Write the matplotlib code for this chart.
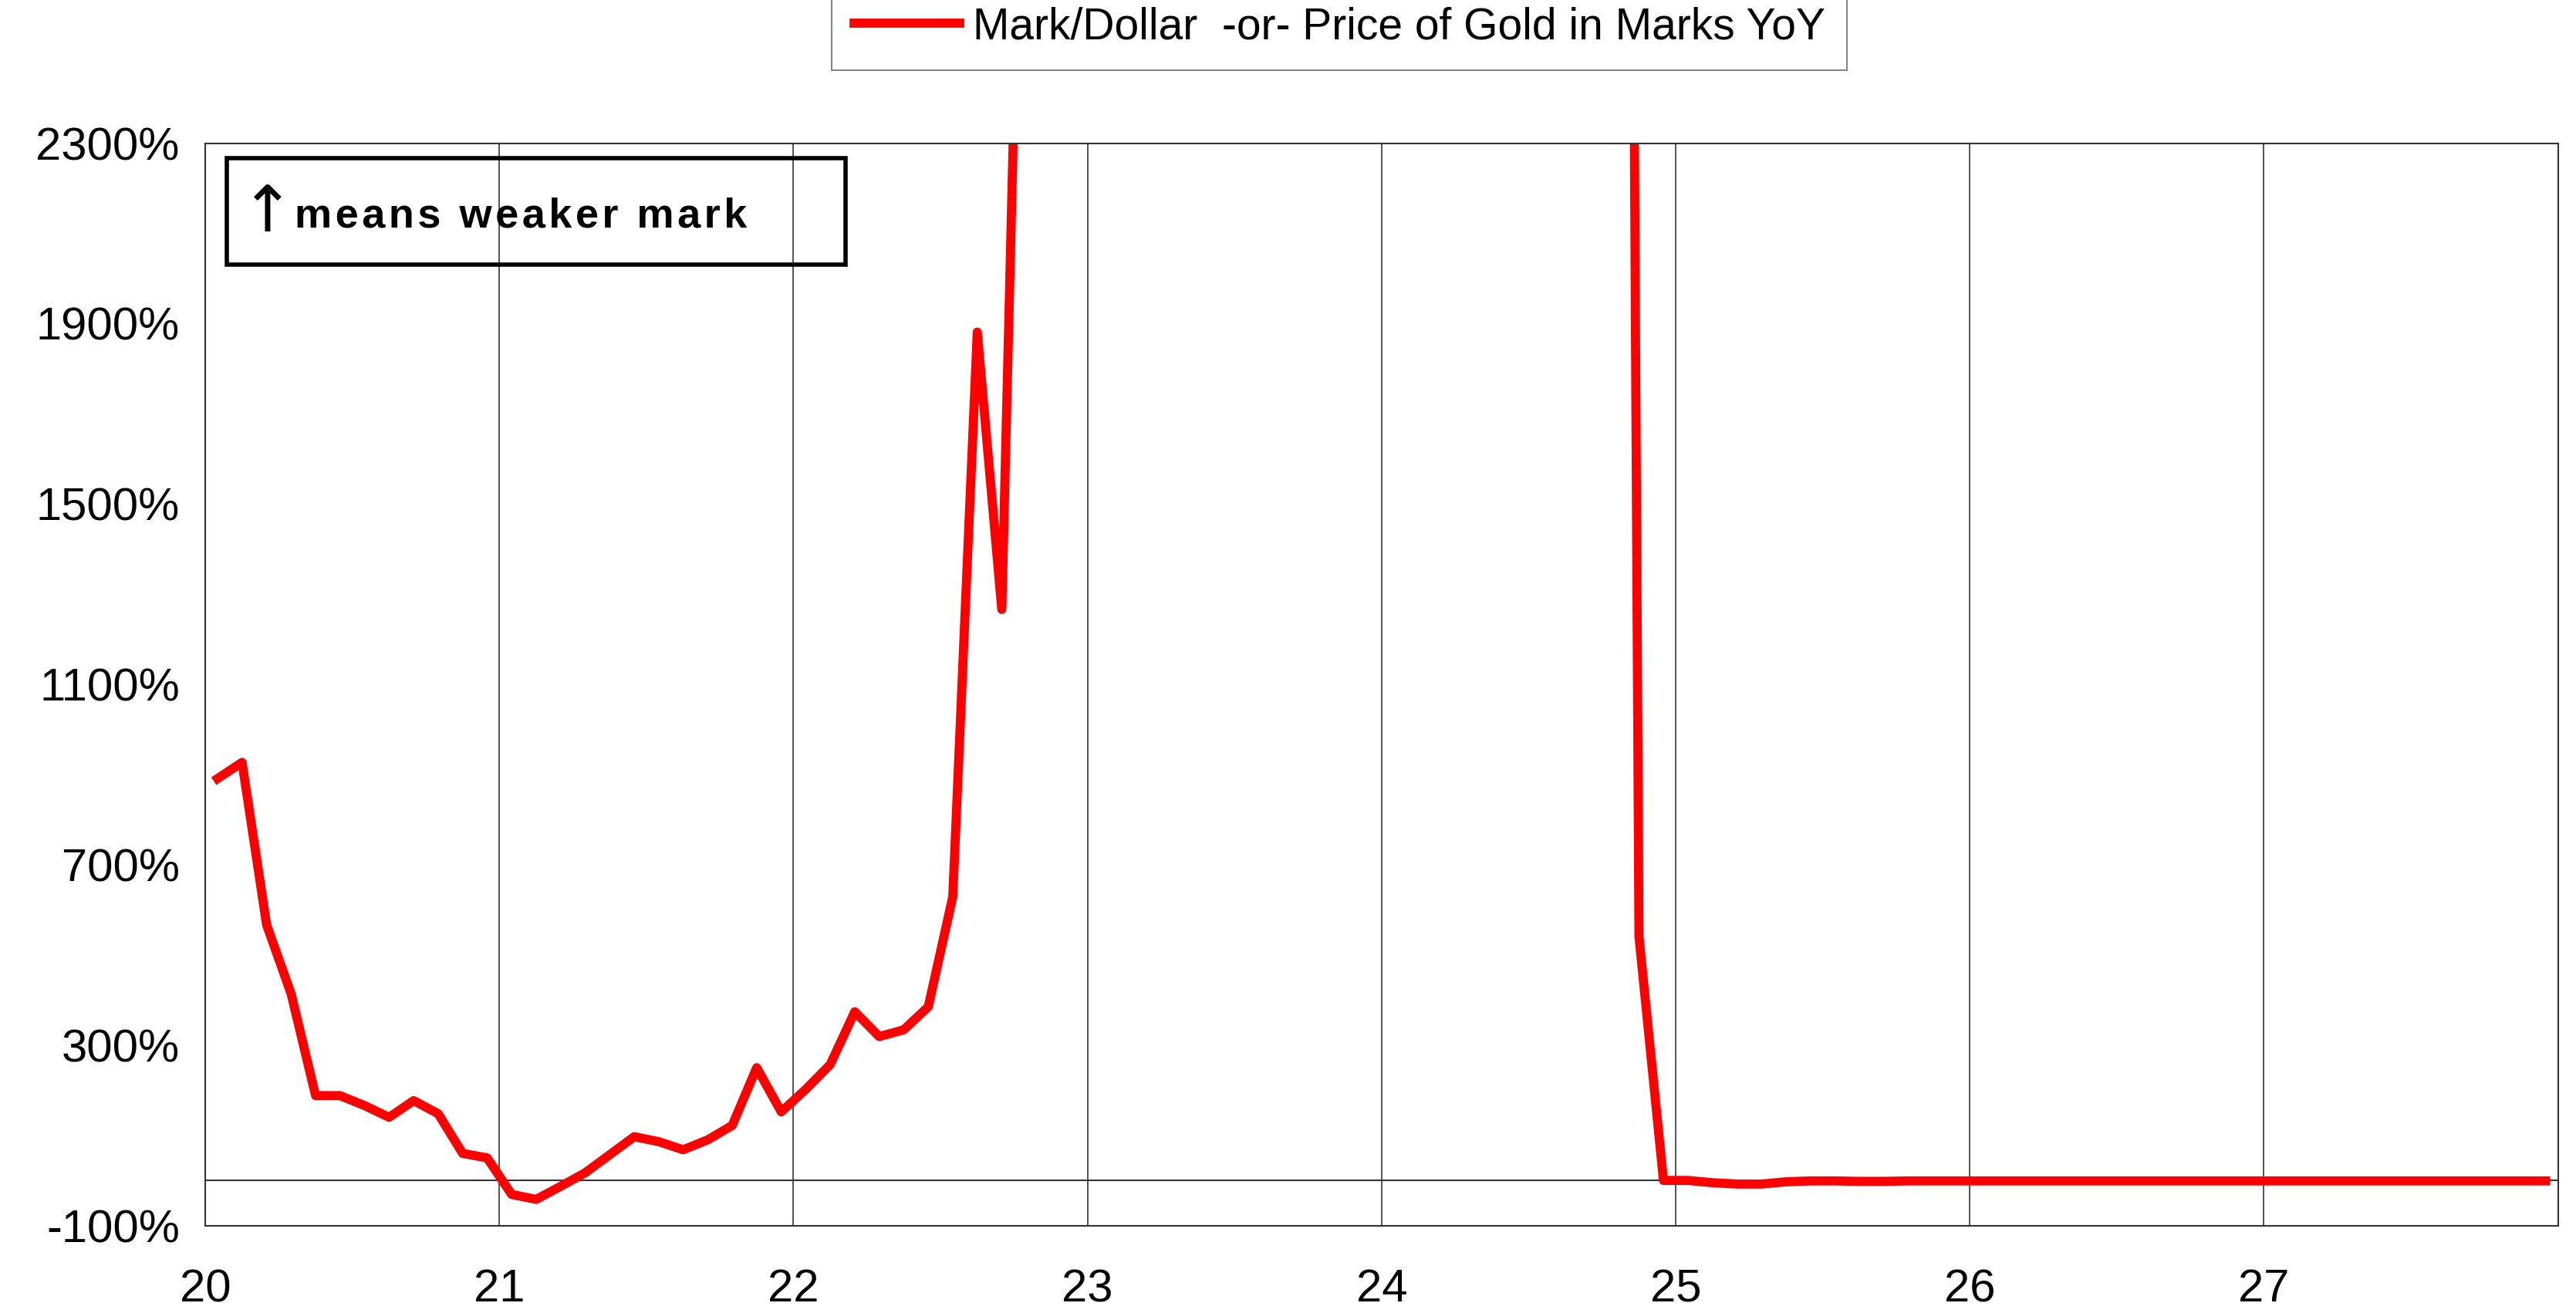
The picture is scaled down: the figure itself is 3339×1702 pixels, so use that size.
import matplotlib.pyplot as plt
import numpy as np
from matplotlib.patches import Rectangle

plt.rcParams['font.family'] = ['Liberation Sans', 'DejaVu Sans']

# Monthly YoY change (%), Jan 1920 - Dec 1927. Hyperinflation months are far off scale.
yoy_1920 = [891, 927, 567, 414, 188, 188, 166, 140, 177, 148, 60, 50]
yoy_1921 = [-31, -42, -13, 17, 57, 97, 86, 68, 90, 122, 250, 152]
yoy_1922 = [202, 257, 374, 319, 334, 385, 629, 1881, 1266, 3500, 9000, 20000]
yoy_1923 = [60000, 80000, 50000, 60000, 90000, 300000, 1e6, 1e7, 1e8, 1e10, 1e11, 1e12]
yoy_1924 = [1e12, 1e11, 1e11, 1e11, 1e11, 1e10, 1e9, 1e8, 1e6, 1e4, 541, 0]
yoy_1925 = [0, -5, -8, -8, -3, -1, -1, -2, -2, -1, -1, -1]
yoy_1926 = [-1] * 12
yoy_1927 = [-1] * 12

values = np.array(yoy_1920 + yoy_1921 + yoy_1922 + yoy_1923 +
                  yoy_1924 + yoy_1925 + yoy_1926 + yoy_1927, dtype=float)
months = 20 + (np.arange(len(values)) + 0.5) / 12

y_ticks = [-100, 300, 700, 1100, 1500, 1900, 2300]
x_ticks = [20, 21, 22, 23, 24, 25, 26, 27]

fig = plt.figure(figsize=(33.39, 17.02), dpi=100)
ax = fig.add_axes([0.0797, 0.0666, 0.9133, 0.8244])

ax.plot(months, values, color='#ff0000', linewidth=8.5,
        label='Mark/Dollar  -or- Price of Gold in Marks YoY')
ax.set_xlim(20, 28)
ax.set_ylim(-100, 2300)
ax.set_yticks(y_ticks)
ax.set_yticklabels([f'{v}%' for v in y_ticks])
ax.set_xticks(x_ticks)
ax.set_xticklabels([str(v) for v in x_ticks])
ax.tick_params(labelsize=43, length=0, pad=24)
ax.tick_params(axis='x', pad=40)
for x in x_ticks[1:]:
    ax.axvline(x, color='#444444', linewidth=1.3, zorder=0)
ax.axhline(0, color='#333333', linewidth=1.5, zorder=0)
for s in ax.spines.values():
    s.set_linewidth(1.5)
    s.set_color('#333333')

# annotation box
ax.add_patch(Rectangle((0.009, 0.888), 0.263, 0.098, transform=ax.transAxes,
                       fill=False, edgecolor='black', linewidth=4, zorder=5))
ax.text(0.015, 0.935, '↑', transform=ax.transAxes, fontsize=60,
        family='DejaVu Sans', va='center', ha='left')
ax.text(0.038, 0.932, '\u200a'.join('means weaker mark'),
        transform=ax.transAxes, fontsize=39, fontweight='bold', va='center', ha='left',
        family=['Liberation Sans', 'DejaVu Sans'])

leg = fig.legend(loc='upper center', bbox_to_anchor=(0.52, 1.012), fontsize=41,
                 frameon=True, fancybox=False, edgecolor='#666666', handlelength=2.4,
                 borderpad=0.5, handletextpad=0.3, borderaxespad=0)
leg.get_frame().set_linewidth(1.5)

fig.savefig('out.png', dpi=100)
